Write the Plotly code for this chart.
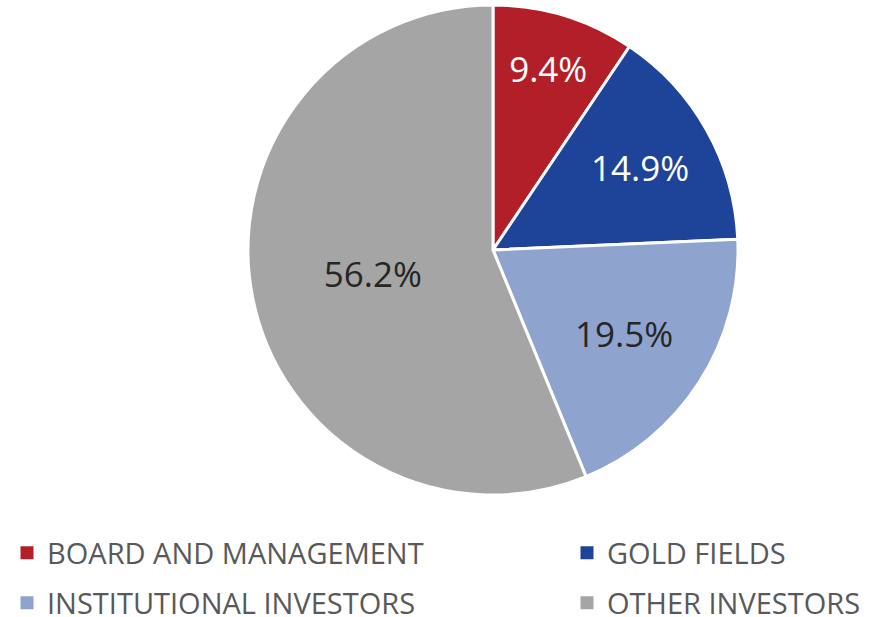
import plotly.graph_objects as go

labels = ['BOARD AND MANAGEMENT', 'GOLD FIELDS', 'INSTITUTIONAL INVESTORS', 'OTHER INVESTORS']
shares = [9.4, 14.9, 19.5, 56.2]
colors = ['#B21F28', '#1E449A', '#8FA3CF', '#A5A5A5']
text_colors = ['white', 'white', '#262626', '#262626']

W, H = 874, 617

fig = go.Figure()

fig.add_trace(go.Pie(
    labels=labels,
    values=shares,
    sort=False,
    direction='clockwise',
    rotation=0,
    marker=dict(colors=colors, line=dict(color='white', width=3)),
    texttemplate='%{value:.1f}%',
    textposition='inside',
    insidetextorientation='horizontal',
    textfont=dict(family='Open Sans', size=35, color=text_colors),
    domain=dict(x=[248 / W, 738 / W], y=[1 - 495 / H, 1 - 5 / H]),
    showlegend=False,
    hoverinfo='label+percent',
))

# one legend per entry so the 2x2 grid can be placed freely
legend_names = ['legend', 'legend2', 'legend3', 'legend4']
legend_pos = [(7, 553), (567, 553), (7, 603), (567, 603)]

legend_style = dict(
    font=dict(family='Open Sans', size=29, color='#595959'),
    orientation='v',
    xanchor='left', yanchor='middle',
    xref='container', yref='container',
    itemwidth=30,
    bgcolor='rgba(0,0,0,0)',
)

legends = {}
for lab, col, lg, (px, py) in zip(labels, colors, legend_names, legend_pos):
    fig.add_trace(go.Scatter(
        x=[None], y=[None],
        mode='markers',
        name=lab,
        marker=dict(symbol='square', size=13, color=col),
        legend=lg,
    ))
    legends[lg] = dict(x=px / W, y=1 - py / H, **legend_style)

fig.update_layout(
    width=W, height=H,
    margin=dict(l=0, r=0, t=0, b=0, autoexpand=False),
    paper_bgcolor='white',
    plot_bgcolor='white',
    xaxis=dict(visible=False),
    yaxis=dict(visible=False),
    **legends,
)

# drop the default page margin so the figure fills the window exactly
fig.write_html(
    "out.html",
    config={'displayModeBar': False},
    post_script="document.body.style.margin='0px';",
)
